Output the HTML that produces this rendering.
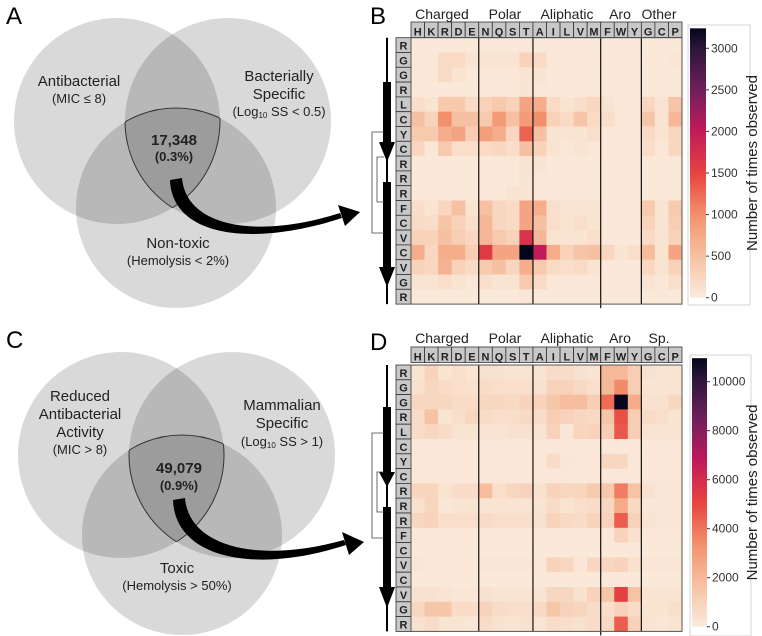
<!DOCTYPE html>
<html><head><meta charset="utf-8"><style>
body{margin:0;background:#fff;width:762px;height:636px;overflow:hidden;font-family:"Liberation Sans",sans-serif}
svg{display:block}
</style></head><body>
<svg id="fig" width="762" height="636" viewBox="0 0 762 636" xmlns="http://www.w3.org/2000/svg" font-family="Liberation Sans, sans-serif">
<defs>
<clipPath id="cA1"><circle cx="117" cy="121" r="103"/></clipPath>
<clipPath id="cA2"><circle cx="228" cy="121" r="103"/></clipPath>
<clipPath id="cA3"><circle cx="176" cy="208" r="100"/></clipPath>
<clipPath id="cC1"><circle cx="121" cy="455" r="103"/></clipPath>
<clipPath id="cC2"><circle cx="232" cy="455" r="103"/></clipPath>
<clipPath id="cC3"><circle cx="182" cy="535" r="100"/></clipPath>
</defs>
<text x="6" y="24" font-size="24">A</text>
<text x="370" y="24" font-size="24">B</text>
<text x="6" y="348" font-size="24">C</text>
<text x="370" y="350" font-size="24">D</text>

<g>
<circle cx="117" cy="121" r="103" fill="rgba(0,0,0,0.15)"/>
<circle cx="228" cy="121" r="103" fill="rgba(0,0,0,0.15)"/>
<circle cx="176" cy="208" r="100" fill="rgba(0,0,0,0.15)"/>
<g clip-path="url(#cA2)"><g clip-path="url(#cA3)"><circle cx="117" cy="121" r="103" fill="none" stroke="#333" stroke-width="1"/></g></g>
<g clip-path="url(#cA1)"><g clip-path="url(#cA3)"><circle cx="228" cy="121" r="103" fill="none" stroke="#333" stroke-width="1"/></g></g>
<g clip-path="url(#cA1)"><g clip-path="url(#cA2)"><circle cx="176" cy="208" r="100" fill="none" stroke="#333" stroke-width="1"/></g></g>
<g text-anchor="middle" fill="#222">
<text x="79" y="86" font-size="15">Antibacterial</text>
<text x="79" y="103" font-size="13">(MIC ≤ 8)</text>
<text x="279" y="81" font-size="15">Bacterially</text>
<text x="279" y="99" font-size="15">Specific</text>
<text x="279" y="116" font-size="13">(Log<tspan font-size="8" dy="2">10</tspan><tspan dy="-2"> SS &lt; 0.5)</tspan></text>
<text x="174" y="145" font-size="15" font-weight="bold">17,348</text>
<text x="174" y="161" font-size="13" font-weight="bold">(0.3%)</text>
<text x="178" y="248" font-size="15">Non-toxic</text>
<text x="178" y="265" font-size="13">(Hemolysis &lt; 2%)</text>
</g>
<path d="M170,180 L182,178 C186,226 255,240 340,213 L342,218 C250,248 172,236 170,180 Z" fill="#000"/>
<polygon points="338,205 360,212 345,226" fill="#000"/>
</g>

<g>
<circle cx="121" cy="455" r="103" fill="rgba(0,0,0,0.15)"/>
<circle cx="232" cy="455" r="103" fill="rgba(0,0,0,0.15)"/>
<circle cx="182" cy="535" r="100" fill="rgba(0,0,0,0.15)"/>
<g clip-path="url(#cC2)"><g clip-path="url(#cC3)"><circle cx="121" cy="455" r="103" fill="none" stroke="#333"/></g></g>
<g clip-path="url(#cC1)"><g clip-path="url(#cC3)"><circle cx="232" cy="455" r="103" fill="none" stroke="#333"/></g></g>
<g clip-path="url(#cC1)"><g clip-path="url(#cC2)"><circle cx="182" cy="535" r="100" fill="none" stroke="#333"/></g></g>
<g text-anchor="middle" fill="#222">
<text x="80" y="401" font-size="15">Reduced</text>
<text x="80" y="419" font-size="15">Antibacterial</text>
<text x="80" y="437" font-size="15">Activity</text>
<text x="80" y="454" font-size="13">(MIC &gt; 8)</text>
<text x="282" y="410" font-size="15">Mammalian</text>
<text x="282" y="428" font-size="15">Specific</text>
<text x="282" y="446" font-size="13">(Log<tspan font-size="8" dy="2">10</tspan><tspan dy="-2"> SS &gt; 1)</tspan></text>
<text x="179" y="473" font-size="15" font-weight="bold">49,079</text>
<text x="179" y="490" font-size="13" font-weight="bold">(0.9%)</text>
<text x="177" y="573" font-size="15">Toxic</text>
<text x="177" y="590" font-size="13">(Hemolysis &gt; 50%)</text>
</g>
<path d="M173,500 L185,498 C189,547 258,564 344,540 L346,545 C254,575 175,558 173,500 Z" fill="#000"/>
<polygon points="342,532 364,542 349,555" fill="#000"/>
</g>
<g id="heatB"></g>
<g id="heatD"></g>
</svg>
<script>
const cols = ["H","K","R","D","E","N","Q","S","T","A","I","L","V","M","F","W","Y","G","C","P"];
const rowLabels = ["R","G","G","R","L","C","Y","C","R","R","R","F","C","V","C","V","G","R"];
const groupsB = ["Charged","Polar","Aliphatic","Aro","Other"];
const groupsD = ["Charged","Polar","Aliphatic","Aro","Sp."];
const ticksB = [0,500,1000,1500,2000,2500,3000];
const ticksD = [0,2000,4000,6000,8000,10000];
const valuesB = [
[30,30,40,40,30,30,30,30,50,40,30,30,30,30,30,30,30,30,30,40],
[50,50,200,200,80,100,100,80,300,200,50,50,50,50,30,30,30,50,30,60],
[50,50,200,100,50,50,50,50,100,100,30,30,30,30,30,30,30,30,30,30],
[30,30,30,30,30,30,30,30,80,50,30,30,30,30,30,30,30,30,30,30],
[150,100,400,400,200,300,400,300,800,700,200,100,150,250,80,30,30,250,80,450],
[500,300,1000,500,500,400,900,500,900,1000,300,200,450,200,150,50,50,450,100,600],
[400,400,700,800,350,850,700,250,1300,500,100,100,100,150,50,30,30,200,100,250],
[250,50,400,150,150,200,250,150,500,300,100,50,100,50,50,30,30,150,50,250],
[30,30,30,30,30,30,30,30,100,80,30,30,30,30,30,30,30,30,30,30],
[30,30,30,30,30,30,30,30,100,50,30,30,30,30,30,30,30,30,30,30],
[30,30,30,30,30,30,30,80,80,50,30,30,30,30,30,30,30,30,30,30],
[150,100,250,500,100,500,250,200,800,700,150,100,100,100,50,30,30,400,100,400],
[200,150,450,300,150,600,250,200,800,500,150,100,150,100,50,30,30,300,100,350],
[300,300,500,350,250,600,400,300,1700,600,100,100,100,150,50,30,30,200,100,300],
[700,250,700,700,350,1600,800,800,3240,2000,700,300,450,500,250,80,150,550,100,800],
[300,250,650,300,200,400,500,250,700,400,200,150,200,100,50,30,30,250,100,300],
[100,100,150,100,50,150,100,100,400,200,50,50,50,50,30,30,30,80,50,150],
[30,30,30,30,30,30,30,30,60,40,30,30,30,30,30,30,30,30,30,30]];
const valuesD = [
[300,1000,300,500,300,400,400,300,300,300,600,600,400,300,2000,2000,1200,400,300,300],
[400,800,600,500,400,600,500,500,500,400,1000,1000,700,500,2000,3500,1200,300,300,300],
[800,800,800,600,600,800,800,700,1000,1000,1500,1800,1800,1200,4200,10900,2400,400,400,800],
[600,1600,300,500,800,600,500,500,700,600,1200,1000,800,700,1500,4800,1200,600,500,300],
[600,800,600,300,300,300,300,400,400,300,1000,200,900,1000,1200,4600,1200,300,300,300],
[150,150,150,150,150,150,150,150,150,150,150,150,150,150,150,150,150,150,150,150],
[150,150,150,150,150,150,150,150,150,150,600,200,150,150,800,800,150,150,150,150],
[150,150,150,150,150,150,150,150,150,150,150,150,150,150,150,150,150,150,150,150],
[900,900,300,600,600,1800,500,800,1000,400,1000,800,900,1300,1400,3800,1600,400,200,200],
[400,900,200,300,300,300,300,300,300,300,600,300,500,600,800,2500,700,200,200,200],
[800,1000,500,500,500,600,500,500,500,400,1000,700,600,1000,1000,4500,1000,300,200,200],
[150,150,150,150,150,150,150,150,150,150,150,150,150,150,150,1000,400,150,150,150],
[100,100,100,100,100,100,100,100,100,100,100,100,100,100,100,100,100,100,100,100],
[200,150,150,150,150,200,200,200,200,150,1000,800,200,800,800,1000,400,200,200,200],
[100,100,100,100,100,100,100,100,100,100,100,100,100,100,100,100,100,100,100,100],
[400,400,300,200,200,400,300,300,300,300,800,800,400,1000,1500,5200,1600,300,300,300],
[800,1500,1500,600,600,1000,600,500,500,700,1500,1000,900,600,500,1000,600,300,300,500],
[400,600,300,300,200,600,400,300,400,300,600,500,400,600,700,4500,1000,300,200,300]];

const stops=[[0,'#faebdd'],[0.15,'#f6c2a3'],[0.31,'#f3906c'],[0.46,'#e8443f'],[0.62,'#c01a5a'],[0.77,'#701f5c'],[0.93,'#2a1538'],[1,'#03051a']];
function hx(c){return [1,3,5].map(i=>parseInt(c.substr(i,2),16));}
function cmap(t){t=Math.max(0,Math.min(1,t));
 for(let i=0;i<stops.length-1;i++){const a=stops[i],b=stops[i+1];if(t<=b[0]){const f=(t-a[0])/(b[0]-a[0]);const A=hx(a[1]),B=hx(b[1]);return 'rgb('+A.map((v,k)=>Math.round(v+(B[k]-v)*f)).join(',')+')';}}
 return stops[stops.length-1][1];}
const NS="http://www.w3.org/2000/svg";
function mk(p,tag,at){const e=document.createElementNS(NS,tag);for(const k in at)e.setAttribute(k,at[k]);p.appendChild(e);return e;}

function heat(g,o){
 const x0=411,x1=682,cw=(x1-x0)/cols.length,y0=o.y0,rh=o.rh,y1=y0+rh*rowLabels.length;
 const xs=i=>x0+i*cw, ys=j=>y0+j*rh, col=v=>cmap(v/o.vmax);
 const gx=[442,505,567,620,659];
 o.groups.forEach((name,i)=>{const t=mk(g,'text',{x:gx[i],y:o.gy,'font-size':14,'text-anchor':'middle',fill:'#222'});t.textContent=name;
  
  });
 cols.forEach((c,i)=>{const r=mk(g,'rect',{x:xs(i),y:o.hy,width:cw,height:o.hh,fill:'#c8c8c8',stroke:'#333','stroke-width':0.8});
  
  
  const t=mk(g,'text',{x:xs(i)+cw/2,y:o.hy+o.hh-2,'font-size':11,'font-weight':'bold','text-anchor':'middle',fill:'#222'});t.textContent=c;});
 rowLabels.forEach((c,j)=>{const r=mk(g,'rect',{x:396,y:ys(j),width:15,height:rh,fill:'#c8c8c8',stroke:'#333','stroke-width':0.8});
  
  
  const t=mk(g,'text',{x:403.5,y:ys(j)+rh-3,'font-size':11,'font-weight':'bold','text-anchor':'middle',fill:'#222'});t.textContent=c;});
 o.vals.forEach((row,j)=>row.forEach((v,i)=>{const r=mk(g,'rect',{x:xs(i),y:ys(j),width:cw+0.4,height:rh+0.4,fill:col(v)});
  
  }));
 [5,9,14,17].forEach(k=>mk(g,'line',{x1:xs(k),x2:xs(k),y1:y0,y2:y1+(k==14?4:0),stroke:'#111','stroke-width':1.2}));
 mk(g,'rect',{x:x0,y:y0,width:x1-x0,height:y1-y0,fill:'none',stroke:'#555','stroke-width':1});
 const cb=o.cb, cy=v=>cb.y0-(v/cb.tv)*(cb.y0-cb.ytv);
 const grad=mk(g,'linearGradient',{id:o.id+'g',x1:0,y1:1,x2:0,y2:0});
 for(let k=0;k<=40;k++)mk(grad,'stop',{offset:k/40,'stop-color':cmap(k/40)});
 mk(g,'rect',{x:cb.x-2,y:cb.top-3,width:cb.w+46,height:cb.bot-cb.top+6,fill:'#fff',stroke:'#ccc','stroke-width':0.8});
 const cr=mk(g,'rect',{x:cb.x,y:cy(o.vmax),width:cb.w,height:cy(0)-cy(o.vmax),fill:'url(#'+o.id+'g)'});
 
 
 o.ticks.forEach(v=>{mk(g,'line',{x1:cb.x+cb.w,x2:cb.x+cb.w+3,y1:cy(v),y2:cy(v),stroke:'#333'});
  const t=mk(g,'text',{x:cb.x+cb.w+5,y:cy(v)+4,'font-size':12,fill:'#333'});t.textContent=v;
  
  });
 const mid=(cy(0)+cy(o.vmax))/2;
 const tt=mk(g,'text',{x:0,y:0,'font-size':15,'text-anchor':'middle',fill:'#222',transform:'translate(757,'+mid+') rotate(-90)'});
 tt.textContent='Number of times observed';
 
 
 const s=o.ss;
 mk(g,'line',{x1:387,x2:387,y1:y0,y2:y1,stroke:'#000','stroke-width':2});
 mk(g,'rect',{x:383,y:s[0],width:8,height:s[1]-s[0],fill:'#000'});
 mk(g,'polygon',{points:(379)+','+s[1]+' '+395+','+s[1]+' 387,'+s[2],fill:'#000'});
 mk(g,'rect',{x:383,y:s[3],width:8,height:s[4]-s[3],fill:'#000'});
 mk(g,'polygon',{points:(379)+','+s[4]+' '+395+','+s[4]+' 387,'+s[5],fill:'#000'});
 const b=o.br;
 mk(g,'path',{d:'M384,'+b[0]+' H372 V'+b[1]+' H384',fill:'none',stroke:'#444','stroke-width':0.8});
 mk(g,'path',{d:'M384,'+b[2]+' H377 V'+b[3]+' H384',fill:'none',stroke:'#444','stroke-width':0.8});
}
heat(document.getElementById('heatB'),{id:'B',y0:37.7,rh:14.8,hy:22,hh:15.5,gy:19,vals:valuesB,vmax:3240,groups:groupsB,ticks:ticksB,
 cb:{x:690,w:16,y0:297.7,ytv:48.3,tv:3000,top:28,bot:302},ss:[82,142,162,182,267,287],br:[132,233,157,202]});
heat(document.getElementById('heatD'),{id:'D',y0:365,rh:14.8,hy:347,hh:15.5,gy:343,vals:valuesD,vmax:10960,groups:groupsD,ticks:ticksD,
 cb:{x:692,w:15,y0:626.7,ytv:381.7,tv:10000,top:358,bot:633},ss:[407,472,487,507,587,608],br:[433,538,472,512]});
</script>
</body></html>
